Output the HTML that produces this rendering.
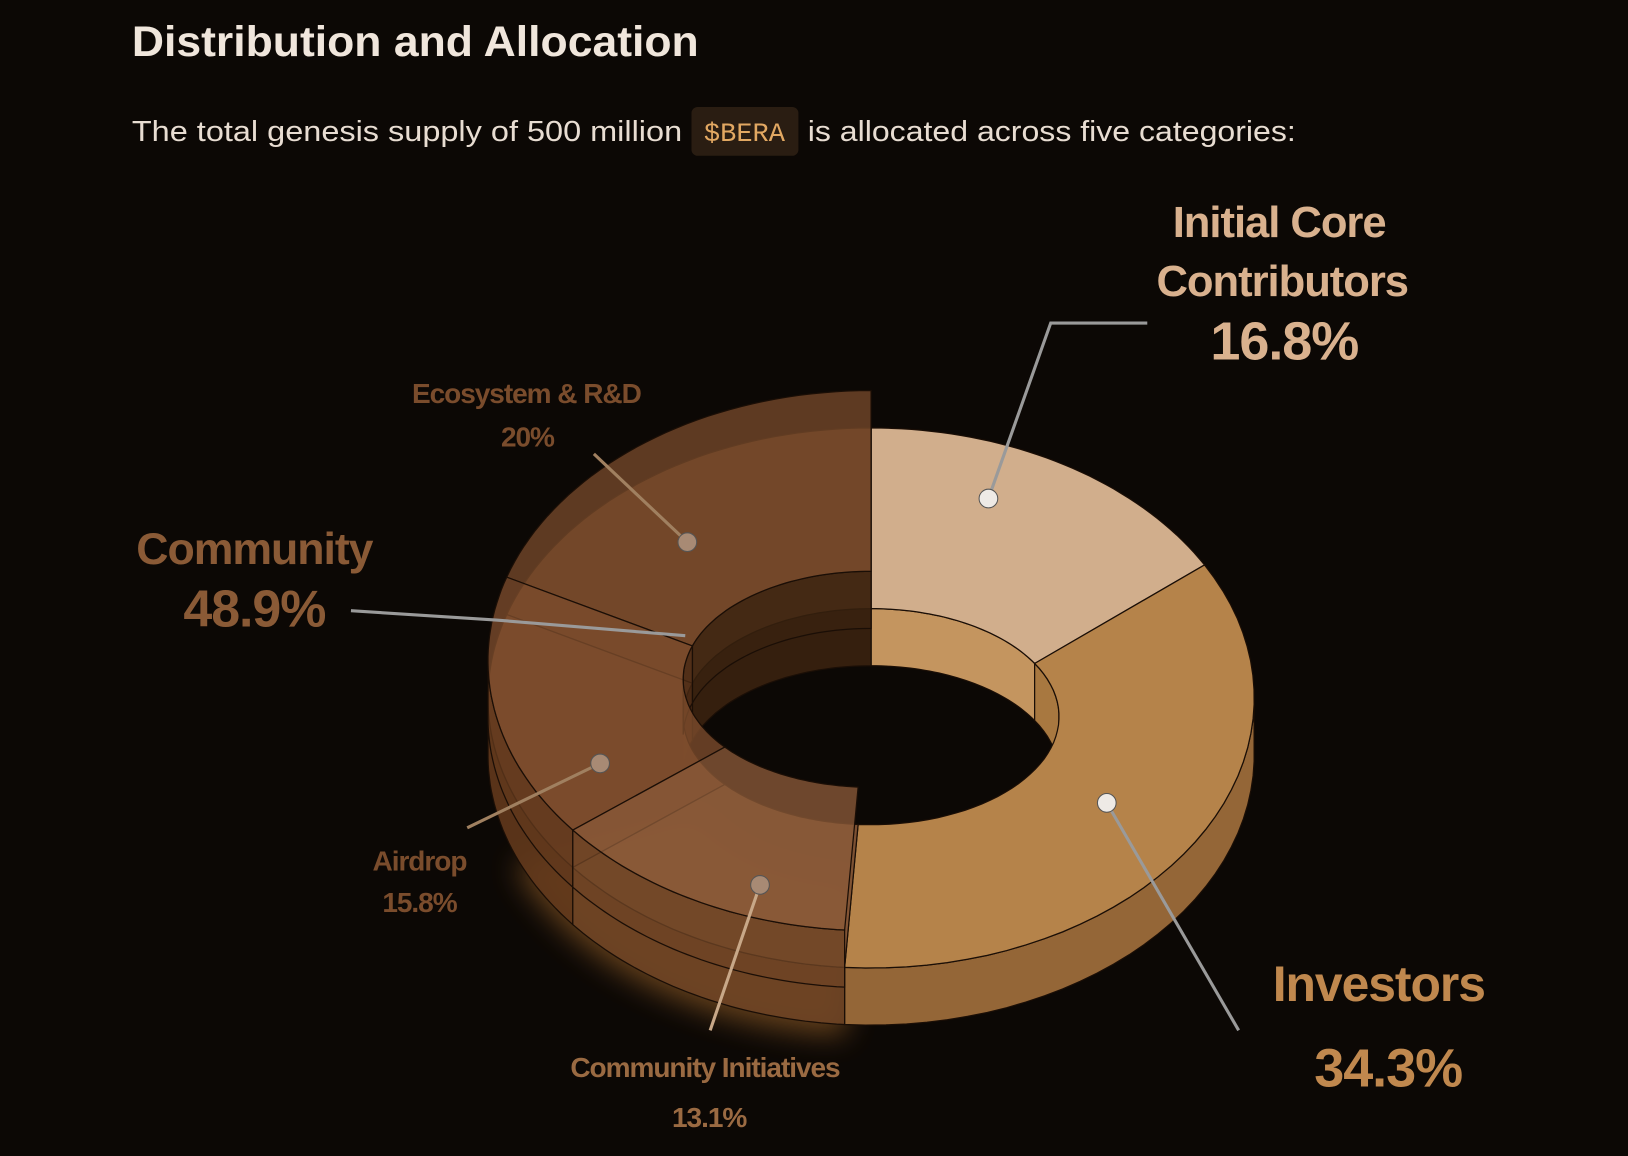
<!DOCTYPE html>
<html><head><meta charset="utf-8"><style>
html,body{margin:0;padding:0;background:#0c0805;}
svg{display:block;}
text{font-family:"Liberation Sans",sans-serif;}
</style></head><body>
<svg id="chart" width="1628" height="1156" viewBox="0 0 1568 1113" preserveAspectRatio="none" xmlns="http://www.w3.org/2000/svg">
<defs>
<filter id="glow" x="-50%" y="-50%" width="200%" height="200%"><feGaussianBlur stdDeviation="14"/></filter>
</defs>
<rect x="0" y="0" width="1568" height="1113" fill="#0c0805"/>
<text x="127" y="54" font-size="41" font-weight="bold" fill="#f0e6dc" textLength="546" lengthAdjust="spacingAndGlyphs">Distribution and Allocation</text>
<text x="127" y="136" font-size="28" fill="#e8ddd2" textLength="530" lengthAdjust="spacingAndGlyphs">The total genesis supply of 500 million</text>
<rect x="666" y="103" width="103" height="47" rx="6" fill="#2a1d12"/>
<text x="678" y="136" font-size="26" fill="#e2a862" style="font-family:'Liberation Mono',monospace">$BERA</text>
<text x="778" y="136" font-size="28" fill="#e8ddd2" textLength="470" lengthAdjust="spacingAndGlyphs">is allocated across five categories:</text>
<g id="donut"></g>
<g id="labels"></g>
</svg>
<script>
const categories = ["Initial Core Contributors","Investors","Community Initiatives","Airdrop","Ecosystem & R&D"];
const values = [16.8, 34.3, 13.1, 15.8, 20];
const groups = ["core","core","community","community","community"];
const communityTotal = "48.9%";

const NS="http://www.w3.org/2000/svg";
const cx=839, cy=672, rx=369, ry=260, irx=181, iry=104, icy=690, depth=55, lift=-36;
const topCol=["#d1ae8c","#b5834a","#8a5a38","#7d4d2d","#76492a"];
const sideCol=["#b48a60","#946637","#6e4425","#62391c","#5a3519"];
const innerCol=["#c4955f","#a87840","#4a2a14","#4a2a14","#3a2210"];
function op(a,dy){return [cx+rx*Math.sin(a), cy-ry*Math.cos(a)+dy];}
function ip(a,dy){return [cx+irx*Math.sin(a), icy-iry*Math.cos(a)+dy];}
function arc(fn,a0,a1,dy,n){let s=[];for(let i=0;i<=n;i++){const a=a0+(a1-a0)*i/n;s.push(fn(a,dy));}return s;}
function poly(pts){return "M"+pts.map(p=>p[0].toFixed(1)+","+p[1].toFixed(1)).join("L")+"Z";}
function mk(parent,d,fill,opacity,name){const p=document.createElementNS(NS,"path");p.setAttribute("d",d);p.setAttribute("fill",fill);p.setAttribute("stroke","#1a0e06");p.setAttribute("stroke-width","1.2");if(opacity!=null)p.setAttribute("fill-opacity",opacity);


parent.appendChild(p);return p;}
const g=document.getElementById("donut");
const total=values.reduce((a,b)=>a+b,0);
let acc=0; const slices=[];
values.forEach((v,i)=>{const a0=acc/total*2*Math.PI;acc+=v;const a1=acc/total*2*Math.PI;slices.push([a0,a1]);});
const gl=document.createElementNS(NS,"path");
const gs=slices[2];
gl.setAttribute("d",poly(arc(op,gs[0],gs[1]+0.3,depth+10,30).concat(arc(ip,gs[1]+0.3,gs[0],depth,30))));
gl.setAttribute("fill","#d88a3a");gl.setAttribute("opacity","0.45");gl.setAttribute("filter","url(#glow)");


g.appendChild(gl);
function drawSlice(i,dy,opac,suffix){
  const [a0,a1]=slices[i];const n=40;
  const pts=[];for(let k=0;k<=n;k++){const a=a0+(a1-a0)*k/n;if(Math.cos(a)>0)pts.push(a);}
  if(pts.length>1){const up=pts.map(a=>ip(a,dy)),dn=pts.slice().reverse().map(a=>ip(a,dy+depth));mk(g,poly(up.concat(dn)),innerCol[i],opac,"inner-wall-"+suffix);}
  const pts2=[];for(let k=0;k<=n;k++){const a=a0+(a1-a0)*k/n;if(Math.cos(a)<=0.02)pts2.push(a);}
  if(pts2.length>1){const up=pts2.map(a=>op(a,dy)),dn=pts2.slice().reverse().map(a=>op(a,dy+depth));mk(g,poly(up.concat(dn)),sideCol[i],opac,"outer-wall-"+suffix);}
  mk(g,poly(arc(op,a0,a1,dy,n).concat(arc(ip,a1,a0,dy,n))),topCol[i],opac,"slice-"+suffix);
}
const keys=["initial-core","investors","community-initiatives","airdrop","ecosystem"];
drawSlice(0,0,1,keys[0]);drawSlice(1,0,1,keys[1]);
[4,3,2].forEach(i=>drawSlice(i,0,0.9,keys[i]+"-base"));
[4,3,2].forEach(i=>drawSlice(i,lift,0.78,keys[i]));

const L=document.getElementById("labels");
function line(pts,col,w,name){const p=document.createElementNS(NS,"polyline");p.setAttribute("points",pts.map(q=>q.join(",")).join(" "));p.setAttribute("fill","none");p.setAttribute("stroke",col);p.setAttribute("stroke-width",w);


L.appendChild(p);}
function dot(x,y,col,name){const c=document.createElementNS(NS,"circle");c.setAttribute("cx",x);c.setAttribute("cy",y);c.setAttribute("r",9);c.setAttribute("fill",col);c.setAttribute("stroke","#555");


L.appendChild(c);}
function txt(s,x,y,size,col,name){const t=document.createElementNS(NS,"text");t.textContent=s;t.setAttribute("x",x);t.setAttribute("y",y);t.setAttribute("font-size",size);t.setAttribute("font-weight","bold");t.setAttribute("fill",col);t.setAttribute("text-anchor","middle");t.setAttribute("letter-spacing","-1");


L.appendChild(t);}
line([[1105,311],[1012,311],[952,480]],"#9a9a9a",3,"core-leader");dot(952,480,"#eeeae6","core-dot");
line([[1066,773],[1193,992]],"#9a9a9a",3,"investors-leader");dot(1066,773,"#eeeae6","investors-dot");
line([[338,588],[478,597],[660,612]],"#9a9a9a",3,"community-leader");
line([[572,437],[662,522]],"#a08060",3,"ecosystem-leader");dot(662,522,"#a88a74","ecosystem-dot");
line([[450,797],[578,735]],"#a08060",3,"airdrop-leader");dot(578,735,"#a88a74","airdrop-dot");
line([[684,992],[732,852]],"#c8a888",3,"initiatives-leader");dot(732,852,"#a88a74","initiatives-dot");
function pct(i){return values[i]+"%";}
txt("Initial Core",1232,228,42,"#d9b18e","core-label");
txt("Contributors",1235,285,42,"#d9b18e","core-label-2");
txt(pct(0),1237,346,52,"#d9b18e","core-value");
txt("Investors",1328,964,48,"#c0884e","investors-label");
txt(pct(1),1337,1046,52,"#c0884e","investors-value");
txt("Community",245,543,43,"#8a5a36","community-label");
txt(communityTotal,245,603,50,"#8a5a36","community-value");
txt("Ecosystem & R&D",507,388,27,"#7a4c2c","ecosystem-label");
txt(pct(4),508,430,27,"#7a4c2c","ecosystem-value");
txt("Airdrop",404,838,27,"#7a4c2c","airdrop-label");
txt(pct(3),404,878,27,"#7a4c2c","airdrop-value");
txt("Community Initiatives",679,1037,27,"#9a6a42","initiatives-label");
txt(pct(2),683,1085,27,"#9a6a42","initiatives-value");
</script>
</body></html>
